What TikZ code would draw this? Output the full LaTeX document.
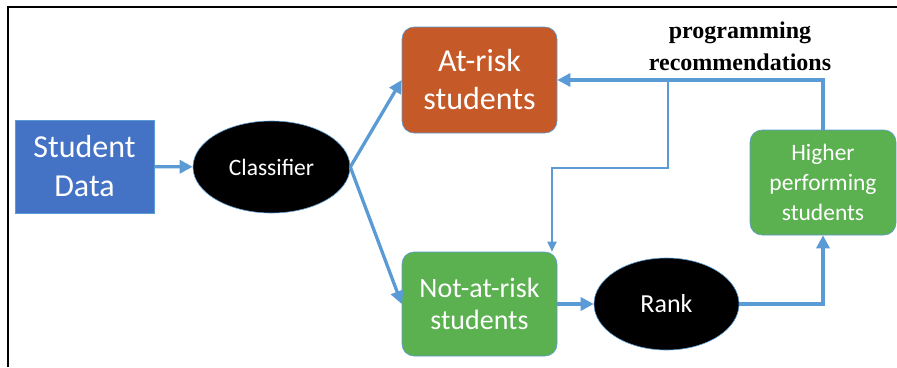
\documentclass[tikz,border=0pt]{standalone}
\usepackage{fontspec}
\setmainfont{Carlito}
\newfontfamily\labelfont{Liberation Serif}
\usetikzlibrary{shapes.geometric,arrows.meta}

\definecolor{dataBlue}{HTML}{4472C4}
\definecolor{riskOrange}{HTML}{C55A28}
\definecolor{okGreen}{HTML}{5BB050}
\definecolor{flowBlue}{HTML}{5B9BD5}

\tikzset{
    box/.style={draw=flowBlue, line width=0.6pt, text=white, align=center,
        inner sep=0pt, font=\fontsize{24}{30}\selectfont},
    roundbox/.style={box, rounded corners=12pt},
    oval/.style={ellipse, draw=flowBlue, line width=0.6pt, fill=black, text=white,
        inner sep=0pt, font=\fontsize{23.5}{28}\selectfont},
    flow/.style={draw=flowBlue, line width=3.3pt, -{Triangle[length=13pt,width=13pt]}},
    feed/.style={draw=flowBlue, line width=1.8pt, -{Triangle[length=10pt,width=9pt]}}
}

\begin{document}
\begin{tikzpicture}[x=1pt, y=-1pt]
    \useasboundingbox (0,0) rectangle (897,367);

    % frame
    \draw[line width=2pt] (8,367) -- (8,7) -- (897,7);

    % nodes
    \node[box, fill=dataBlue, minimum width=139, minimum height=93,
        font=\fontsize{32}{39}\selectfont] (data) at (84.5,166.5) {Student\\Data};
    \node[oval, minimum width=157, minimum height=92] (clf) at (271.5,167) {Classifier};
    \node[roundbox, fill=riskOrange, minimum width=155, minimum height=106,
        font=\fontsize{32}{38}\selectfont] (risk) at (479.5,80) {At-risk\\students};
    \node[roundbox, fill=okGreen, minimum width=155, minimum height=104,
        font=\fontsize{28}{32}\selectfont] (safe) at (479.5,304) {Not-at-risk\\students};
    \node[oval, minimum width=145, minimum height=92,
        font=\fontsize{26}{30}\selectfont] (rank) at (666.5,304) {Rank};
    \node[roundbox, fill=okGreen, minimum width=146, minimum height=105,
        font=\fontsize{23.5}{30}\selectfont] (high) at (823,182.5) {Higher\\performing\\students};
    \node[font=\labelfont\bfseries\fontsize{24}{32}\selectfont, align=center]
        (rec) at (740,46) {programming\\recommendations};

    % connectors
    \draw[flow] (data) -- (clf);
    \draw[flow] (clf.east) -- (risk.west);
    \draw[flow] (clf.east) -- (safe.west);
    \draw[flow] (safe) -- (rank);
    \draw[flow] (rank.east) -| (high.south);
    \draw[flow] (high.north) |- (risk.east);

    \coordinate (split) at (668,80);
    \coordinate (drop) at (552,168);
    \draw[feed] (split) |- (drop) -- (drop |- safe.north);
\end{tikzpicture}
\end{document}
